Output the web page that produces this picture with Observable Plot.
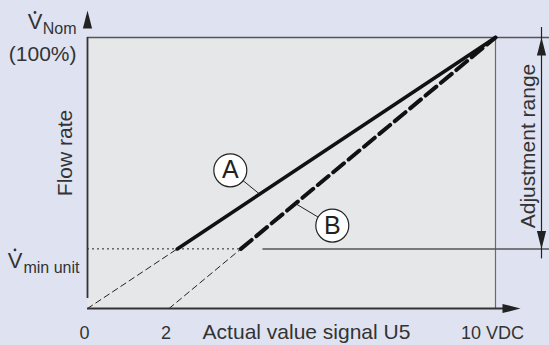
<!DOCTYPE html>
<html>
<head>
<meta charset="utf-8">
<script src="https://cdn.jsdelivr.net/npm/d3@7"></script>
<script src="https://cdn.jsdelivr.net/npm/@observablehq/plot@0.6"></script>
<style>
  html, body { margin: 0; padding: 0; background: #dfe3f1; }
  #chart { width: 549px; height: 345px; }
</style>
</head>
<body>
<div id="chart"></div>
<script>
// ---- data ----
const xDomain = [0, 10];            // actual value signal (VDC)
const yDomain = [0, 100];           // flow rate (%)
const xTickValues = [0, 2, 10];
const xTickLabels = ["0", "2", "10 VDC"];
const vMin = 22;                    // V min unit (% of V Nom)
const curveAx = [0, 2.2, 10];       // characteristic A (0-10 V)
const curveAy = [0, 22, 100];
const curveBx = [2, 3.76, 10];      // characteristic B (2-10 V)
const curveBy = [0, 22, 100];
const vMinRefStart = 4.3;           // where the solid V min reference line starts
const markerNames = ["A", "B"];
const markerX = [3.5, 6.0];
const markerY = [51, 30.6];
const markerTipX = [4.22, 5.1];
const markerTipY = [42.2, 38.7];

const ink = "#333333";
const font = "Liberation Sans, Arial, Helvetica, sans-serif";

const arrowHead = {
  draw(ctx) { ctx.moveTo(0, 0); ctx.lineTo(4.6, 18); ctx.lineTo(-4.6, 18); ctx.closePath(); }
};

const seg = (xs, ys, i, j) => d3.range(i, j + 1).map(k => ({x: xs[k], y: ys[k]}));
const markers = markerNames.map((n, i) => ({name: n, x: markerX[i], y: markerY[i], tx: markerTipX[i], ty: markerTipY[i]}));
const ticks = xTickValues.map((v, i) => ({x: v, label: xTickLabels[i]}));

const chart = Plot.plot({
  width: 549,
  height: 345,
  marginLeft: 87,
  marginRight: 54,
  marginTop: 37,
  marginBottom: 37,
  x: {domain: xDomain, axis: null},
  y: {domain: yDomain, axis: null},
  style: {background: "#dfe3f1", fontFamily: font, color: ink},
  marks: [
    Plot.frame({fill: "#e6e7e9", stroke: "none"}),
    // frame right edge
    Plot.ruleX([xDomain[1]], {y1: yDomain[0], y2: yDomain[1], stroke: "#6a6a6a", strokeWidth: 1.2}),
    // top (100 %) line extended to the right
    Plot.ruleY([yDomain[1]], {x1: xDomain[0], x2: xDomain[1], insetRight: -60, stroke: "#555", strokeWidth: 1.3}),
    // V min reference line
    Plot.ruleY([vMin], {x1: vMinRefStart, x2: xDomain[1], insetRight: -60, stroke: "#555", strokeWidth: 1.5}),
    // dotted V min line
    Plot.ruleY([vMin], {x1: xDomain[0], x2: curveBx[1], stroke: "#222", strokeWidth: 1, strokeDasharray: "2,3"}),
    // thin dashed extrapolations
    Plot.line(seg(curveAx, curveAy, 0, 1), {x: "x", y: "y", stroke: "#222", strokeWidth: 1, strokeDasharray: "6,4"}),
    Plot.line(seg(curveBx, curveBy, 0, 1), {x: "x", y: "y", stroke: "#222", strokeWidth: 1, strokeDasharray: "6,4"}),
    // characteristics
    Plot.line(seg(curveAx, curveAy, 1, 2), {x: "x", y: "y", stroke: "#111", strokeWidth: 3.6}),
    Plot.line(seg(curveBx, curveBy, 1, 2), {x: "x", y: "y", stroke: "#111", strokeWidth: 4, strokeDasharray: "14,6"}),
    // leaders and circled labels
    Plot.link(markers, {x1: "x", y1: "y", x2: "tx", y2: "ty", stroke: "#222", strokeWidth: 1}),
    Plot.dot(markers, {x: "x", y: "y", r: 16.5, fill: "white", stroke: "#222", strokeWidth: 1.2}),
    Plot.text(markers, {x: "x", y: "y", text: "name", fontSize: 25, fill: "#222"}),
    // axes with arrows
    Plot.ruleX([xDomain[0]], {y1: yDomain[0], y2: yDomain[1], insetTop: -10, stroke: ink, strokeWidth: 1.8}),
    Plot.ruleY([yDomain[0]], {x1: xDomain[0], x2: xDomain[1], insetRight: -10, stroke: ink, strokeWidth: 1.8}),
    Plot.dot([0], {x: () => xDomain[0], y: () => yDomain[1], dy: -27, symbol: arrowHead, fill: "#222", stroke: "none"}),
    Plot.dot([0], {x: () => xDomain[1], y: () => yDomain[0], dx: 25, rotate: 90, symbol: arrowHead, fill: "#222", stroke: "none"}),
    // adjustment range arrow
    Plot.ruleX([xDomain[1]], {y1: vMin, y2: yDomain[1], dx: 46, stroke: "#222", strokeWidth: 1.2, insetTop: 10, insetBottom: 10}),
    Plot.dot([0], {x: () => xDomain[1], y: () => yDomain[1], dx: 46, symbol: arrowHead, fill: "#222", stroke: "none"}),
    Plot.dot([0], {x: () => xDomain[1], y: () => vMin, dx: 46, rotate: 180, symbol: arrowHead, fill: "#222", stroke: "none"}),
    Plot.text(["Adjustment range"], {frameAnchor: "right", textAnchor: "middle", dx: 33, dy: -27, rotate: -90, fontSize: 21, fill: ink}),
    // y axis labels
    Plot.text(["Flow rate"], {frameAnchor: "left", textAnchor: "middle", dx: -22, dy: -20, rotate: -90, fontSize: 21, fill: ink}),
    Plot.text(["V"], {x: () => xDomain[0], y: () => yDomain[1], dx: -45, dy: -9, textAnchor: "end", lineAnchor: "bottom", fontSize: 22, fill: ink}),
    Plot.dot([0], {x: () => xDomain[0], y: () => yDomain[1], dx: -52.5, dy: -25, r: 1.4, fill: ink, stroke: "none"}),
    Plot.text(["Nom"], {x: () => xDomain[0], y: () => yDomain[1], dx: -11, dy: -4, textAnchor: "end", lineAnchor: "bottom", fontSize: 16, fill: ink}),
    Plot.text(["(100%)"], {x: () => xDomain[0], y: () => yDomain[1], dx: -11, dy: 23, textAnchor: "end", lineAnchor: "bottom", fontSize: 21, fill: ink}),
    Plot.text(["V"], {x: () => xDomain[0], y: () => vMin, dx: -65, dy: 19, textAnchor: "end", lineAnchor: "bottom", fontSize: 22, fill: ink}),
    Plot.dot([0], {x: () => xDomain[0], y: () => vMin, dx: -72.5, dy: 1, r: 1.4, fill: ink, stroke: "none"}),
    Plot.text(["min unit"], {x: () => xDomain[0], y: () => vMin, dx: -8, dy: 24, textAnchor: "end", lineAnchor: "bottom", fontSize: 16, fill: ink}),
    // x axis labels
    Plot.text(ticks, {x: "x", y: () => yDomain[0], text: "label", dx: -3, dy: 30, lineAnchor: "bottom", fontSize: 18, fill: ink}),
    Plot.text(["Actual value signal U5"], {frameAnchor: "bottom", textAnchor: "middle", dx: 15, dy: 30, lineAnchor: "bottom", fontSize: 21, fill: ink})
  ]
});
document.getElementById("chart").append(chart);
</script>
</body>
</html>
